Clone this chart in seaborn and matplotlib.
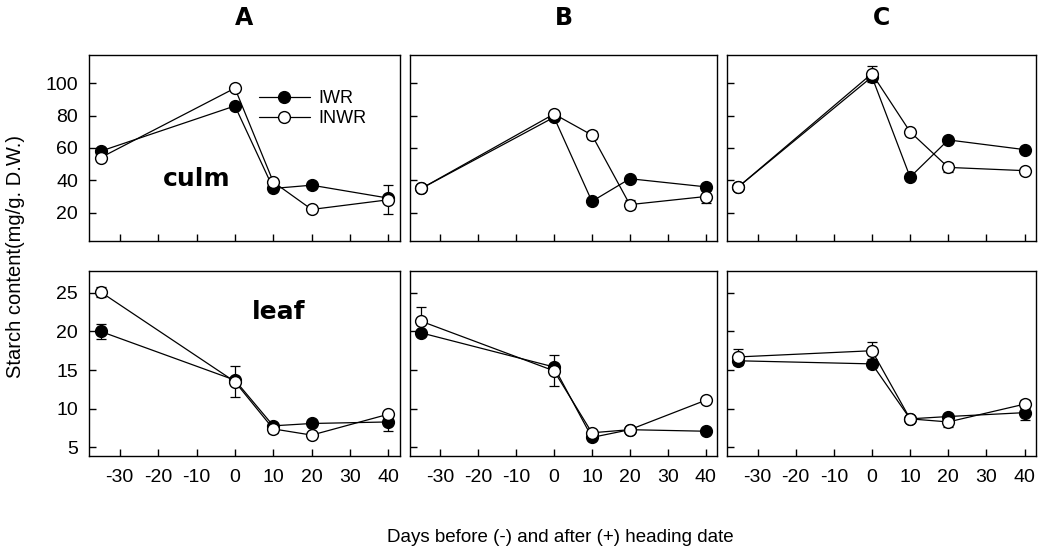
import matplotlib
matplotlib.use("Agg")
import matplotlib.pyplot as plt
from matplotlib.lines import Line2D
import numpy as np
import pandas as pd
import seaborn as sns

# ---------------- data ----------------
days = [-35, 0, 10, 20, 40]
x_ticks = [-30, -20, -10, 0, 10, 20, 30, 40]
panels = ["A", "B", "C"]
treatments = ["IWR", "INWR"]

culm_ticks = [20, 40, 60, 80, 100]
leaf_ticks = [5, 10, 15, 20, 25]

# culm starch (mg/g D.W.)
culm_iwr_A = [58, 86, 35, 37, 29]
culm_inwr_A = [54, 97, 39, 22, 28]
culm_iwr_A_err = [0, 0, 0, 0, 0]
culm_inwr_A_err = [0, 0, 0, 0, 9]

culm_iwr_B = [35, 79, 27, 41, 36]
culm_inwr_B = [35, 81, 68, 25, 30]
culm_iwr_B_err = [0, 0, 0, 0, 2]
culm_inwr_B_err = [0, 0, 2.5, 3, 4]

culm_iwr_C = [36, 104, 42, 65, 59]
culm_inwr_C = [36, 106, 70, 48, 46]
culm_iwr_C_err = [0, 0, 0, 0, 0]
culm_inwr_C_err = [0, 5, 0, 3, 0]

# leaf starch (mg/g D.W.)
leaf_iwr_A = [20.0, 13.7, 7.8, 8.1, 8.3]
leaf_inwr_A = [25.1, 13.5, 7.4, 6.6, 9.3]
leaf_iwr_A_err = [1.0, 0, 0, 0, 1.2]
leaf_inwr_A_err = [0.6, 2.0, 0.5, 0, 0]

leaf_iwr_B = [19.8, 15.4, 6.3, 7.3, 7.1]
leaf_inwr_B = [21.3, 14.9, 6.9, 7.3, 11.1]
leaf_iwr_B_err = [0, 0, 0, 0, 0]
leaf_inwr_B_err = [1.9, 2.0, 0, 0, 0]

leaf_iwr_C = [16.2, 15.8, 8.7, 9.0, 9.5]
leaf_inwr_C = [16.7, 17.5, 8.7, 8.3, 10.6]
leaf_iwr_C_err = [0, 0, 0, 0, 1.0]
leaf_inwr_C_err = [1.0, 1.1, 0, 0.7, 0.5]

series = {
    ("culm", "A"): (culm_iwr_A, culm_iwr_A_err, culm_inwr_A, culm_inwr_A_err),
    ("culm", "B"): (culm_iwr_B, culm_iwr_B_err, culm_inwr_B, culm_inwr_B_err),
    ("culm", "C"): (culm_iwr_C, culm_iwr_C_err, culm_inwr_C, culm_inwr_C_err),
    ("leaf", "A"): (leaf_iwr_A, leaf_iwr_A_err, leaf_inwr_A, leaf_inwr_A_err),
    ("leaf", "B"): (leaf_iwr_B, leaf_iwr_B_err, leaf_inwr_B, leaf_inwr_B_err),
    ("leaf", "C"): (leaf_iwr_C, leaf_iwr_C_err, leaf_inwr_C, leaf_inwr_C_err),
}

rows = []
for (tissue, panel), (iv, ie, nv, ne) in series.items():
    for d, v, e in zip(days, iv, ie):
        rows.append(dict(tissue=tissue, panel=panel, treatment="IWR", day=d, value=v, err=e))
    for d, v, e in zip(days, nv, ne):
        rows.append(dict(tissue=tissue, panel=panel, treatment="INWR", day=d, value=v, err=e))
df = pd.DataFrame(rows)

# ---------------- style ----------------
sns.set_theme(style="ticks")
plt.rcParams["font.family"] = ["Liberation Sans", "DejaVu Sans"]
plt.rcParams["axes.edgecolor"] = "black"
plt.rcParams["axes.linewidth"] = 1.0
plt.rcParams["text.color"] = "black"
plt.rcParams["xtick.color"] = "black"
plt.rcParams["ytick.color"] = "black"

W, H = 1039, 554
fig = plt.figure(figsize=(W / 100, H / 100), dpi=100)
fig.patch.set_facecolor("white")

col_px = [(89, 311), (410, 307), (727, 309)]
row_px = {"culm": (55, 241), "leaf": (271, 456)}
ylims = {"culm": (2.5, 117.5), "leaf": (3.9, 27.8)}
yticks = {"culm": culm_ticks, "leaf": leaf_ticks}

style = {
    "IWR": dict(markerfacecolor="black"),
    "INWR": dict(markerfacecolor="white"),
}

axes = {}
for tissue in ["culm", "leaf"]:
    top, bot = row_px[tissue]
    for (left, width), panel in zip(col_px, panels):
        ax = fig.add_axes([left / W, 1 - bot / H, width / W, (bot - top) / H])
        axes[(tissue, panel)] = ax
        sub_all = df[(df.tissue == tissue) & (df.panel == panel)]
        for tr in treatments:
            sub = sub_all[sub_all.treatment == tr]
            ax.errorbar(sub["day"], sub["value"], yerr=sub["err"].where(sub["err"] > 0, np.nan),
                        fmt="none", ecolor="black", elinewidth=0.9, capsize=3.5,
                        capthick=0.9, zorder=2)
            sns.lineplot(data=sub, x="day", y="value", ax=ax, color="black",
                         linewidth=0.9, marker="o", markersize=8.5,
                         markeredgecolor="black", markeredgewidth=1.0,
                         sort=False, legend=False, errorbar=None,
                         zorder=3, **style[tr])
        ax.set_xlim(-38, 43)
        ax.set_ylim(*ylims[tissue])
        ax.set_xticks(x_ticks)
        ax.set_yticks(yticks[tissue])
        ax.set_xlabel("")
        ax.set_ylabel("")
        ax.tick_params(direction="in", length=5, width=1, colors="black",
                       labelsize=14, bottom=True, left=True,
                       top=False, right=False)
        ax.tick_params(axis="x", pad=9)
        ax.tick_params(axis="y", pad=8)
        if panel != "A":
            ax.set_yticklabels([])
        if tissue == "culm":
            ax.set_xticklabels([])
        else:
            ax.set_xticklabels([str(t) for t in x_ticks])
        for s in ax.spines.values():
            s.set_visible(True)
            s.set_color("black")
            s.set_linewidth(1.0)
        ax.set_facecolor("white")

# panel letters
for (left, width), panel in zip(col_px, panels):
    fig.text((left + width / 2) / W, 1 - 18 / H, panel, ha="center", va="center",
             fontsize=17, fontweight="heavy", family="DejaVu Sans", color="black")

# tissue labels
axes[("culm", "A")].text(0.345, 0.333, "culm", transform=axes[("culm", "A")].transAxes,
                         ha="center", va="center", fontsize=18, fontweight="bold",
                         family="DejaVu Sans", color="black")
axes[("leaf", "A")].text(0.61, 0.778, "leaf", transform=axes[("leaf", "A")].transAxes,
                         ha="center", va="center", fontsize=18, fontweight="bold",
                         family="DejaVu Sans", color="black")

# legend
handles = [
    Line2D([], [], color="black", linewidth=0.9, marker="o", markersize=8.5,
           markerfacecolor="black", markeredgecolor="black"),
    Line2D([], [], color="black", linewidth=0.9, marker="o", markersize=8.5,
           markerfacecolor="white", markeredgecolor="black"),
]
axes[("culm", "A")].legend(handles, treatments, loc="upper left",
                           bbox_to_anchor=(0.547, 0.81), frameon=False,
                           handlelength=2.8, handletextpad=0.5, labelspacing=0.15,
                           borderaxespad=0, borderpad=0, fontsize=13,
                           labelcolor="black")

# axis labels
fig.text(16 / W, 1 - 257 / H, "Starch content(mg/g. D.W.)", rotation=90,
         ha="center", va="center", fontsize=14.5, color="black")
fig.text(560 / W, 1 - 538 / H, "Days before (-) and after (+) heading date",
         ha="center", va="center", fontsize=13.5, color="black")

fig.savefig("out.png", dpi=100, facecolor="white")
